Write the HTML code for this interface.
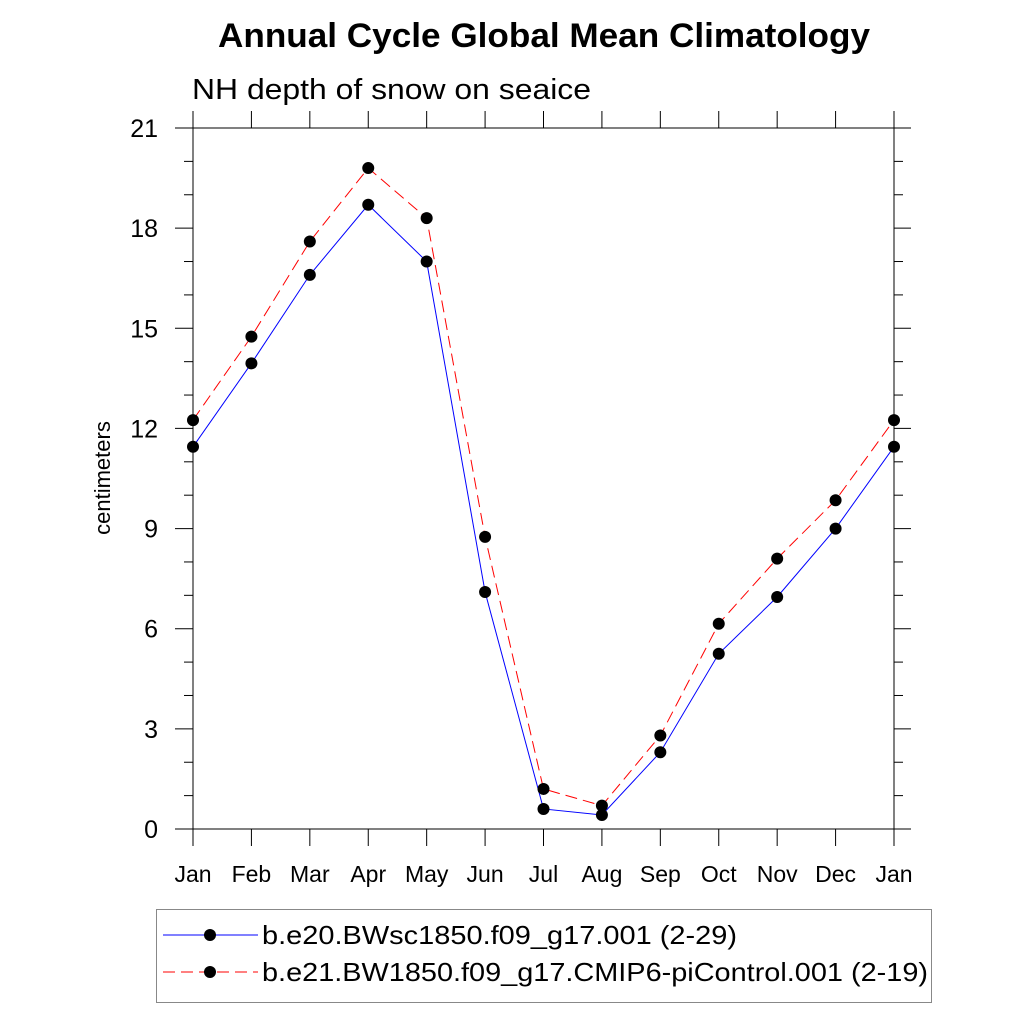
<!DOCTYPE html>
<html><head><meta charset="utf-8"><style>
html,body{margin:0;padding:0;background:#fff;}
svg{display:block;font-family:"Liberation Sans",Arial,sans-serif;}
</style></head><body>
<svg id="chart" width="1024" height="1024" viewBox="0 0 1024 1024" xmlns="http://www.w3.org/2000/svg">
<text x="218" y="47" font-size="34" font-weight="bold" textLength="652" lengthAdjust="spacingAndGlyphs">Annual Cycle Global Mean Climatology</text>
<text x="192" y="99" font-size="29" textLength="399" lengthAdjust="spacingAndGlyphs">NH depth of snow on seaice</text>
<text transform="translate(110,478) rotate(-90)" text-anchor="middle" font-size="22">centimeters</text>
<g id="axes"></g>
<g id="series"></g>
<rect x="156.5" y="909.5" width="775" height="93" fill="none" stroke="#888" stroke-width="1"/>
<g>
<line x1="163" y1="935" x2="258" y2="935" stroke="#00f" stroke-width="1"/>
<circle cx="210" cy="935" r="6" fill="#000"/>
<text x="262" y="944" font-size="26" textLength="475" lengthAdjust="spacingAndGlyphs">b.e20.BWsc1850.f09_g17.001 (2-29)</text>
</g>
<g>
<line x1="163" y1="972" x2="258" y2="972" stroke="#f00" stroke-width="1" stroke-dasharray="12,6"/>
<circle cx="210" cy="972" r="6" fill="#000"/>
<text x="262" y="981" font-size="26" textLength="666" lengthAdjust="spacingAndGlyphs">b.e21.BW1850.f09_g17.CMIP6-piControl.001 (2-19)</text>
</g>
</svg>
<script>
const months = ["Jan","Feb","Mar","Apr","May","Jun","Jul","Aug","Sep","Oct","Nov","Dec","Jan"];
const blueValues = [11.45,13.95,16.6,18.7,17.0,7.1,0.6,0.42,2.3,5.25,6.95,9.0,11.45];
const redValues = [12.25,14.75,17.6,19.8,18.3,8.75,1.2,0.7,2.8,6.15,8.1,9.85,12.25];
const yTicks = [0,3,6,9,12,15,18,21];

const NS="http://www.w3.org/2000/svg";
const L=193,R=894,T=128,B=829,yMax=21;
const xs=i=>L+(R-L)*i/(months.length-1);
const ys=v=>B-(B-T)*v/yMax;
function mk(tag,attrs,parent){const e=document.createElementNS(NS,tag);for(const k in attrs)e.setAttribute(k,attrs[k]);parent.appendChild(e);return e;}
const ax=document.getElementById('axes');
const frame=mk('rect',{x:L,y:T,width:R-L,height:B-T,fill:'none',stroke:'#000','stroke-width':1},ax);


months.forEach((m,i)=>{
  const x=xs(i);
  mk('line',{x1:x,y1:B,x2:x,y2:B+17,stroke:'#000'},ax);
  mk('line',{x1:x,y1:T,x2:x,y2:T-17,stroke:'#000'},ax);
  const t=mk('text',{x:x,y:B+53,'text-anchor':'middle','font-size':23},ax);
  t.textContent=m;
  
  
});
yTicks.forEach(v=>{
  const y=ys(v);
  mk('line',{x1:L-18,y1:y,x2:L,y2:y,stroke:'#000'},ax);
  mk('line',{x1:R,y1:y,x2:R+17,y2:y,stroke:'#000'},ax);
  const t=mk('text',{x:L-35,y:y+9,'text-anchor':'end','font-size':25},ax);
  t.textContent=v;
  
  
});
for(let v=0;v<yMax;v+=1){ if(v%3===0)continue; const y=ys(v);
  mk('line',{x1:L-9,y1:y,x2:L,y2:y,stroke:'#000'},ax);
  mk('line',{x1:R,y1:y,x2:R+9,y2:y,stroke:'#000'},ax);
}
const sg=document.getElementById('series');
function series(vals,color,dash,name){
  const pl=mk('polyline',{points:vals.map((v,i)=>xs(i)+','+ys(v)).join(' '),fill:'none',stroke:color,'stroke-width':1},sg);
  if(dash)pl.setAttribute('stroke-dasharray',dash);
  
  
  vals.forEach((v,i)=>{
    const c=mk('circle',{cx:xs(i),cy:ys(v),r:6,fill:'#000'},sg);
    
    
  });
}
series(blueValues,'#00f',null,'blue-series');
series(redValues,'#f00','12,6','red-series');
</script>
</body></html>
